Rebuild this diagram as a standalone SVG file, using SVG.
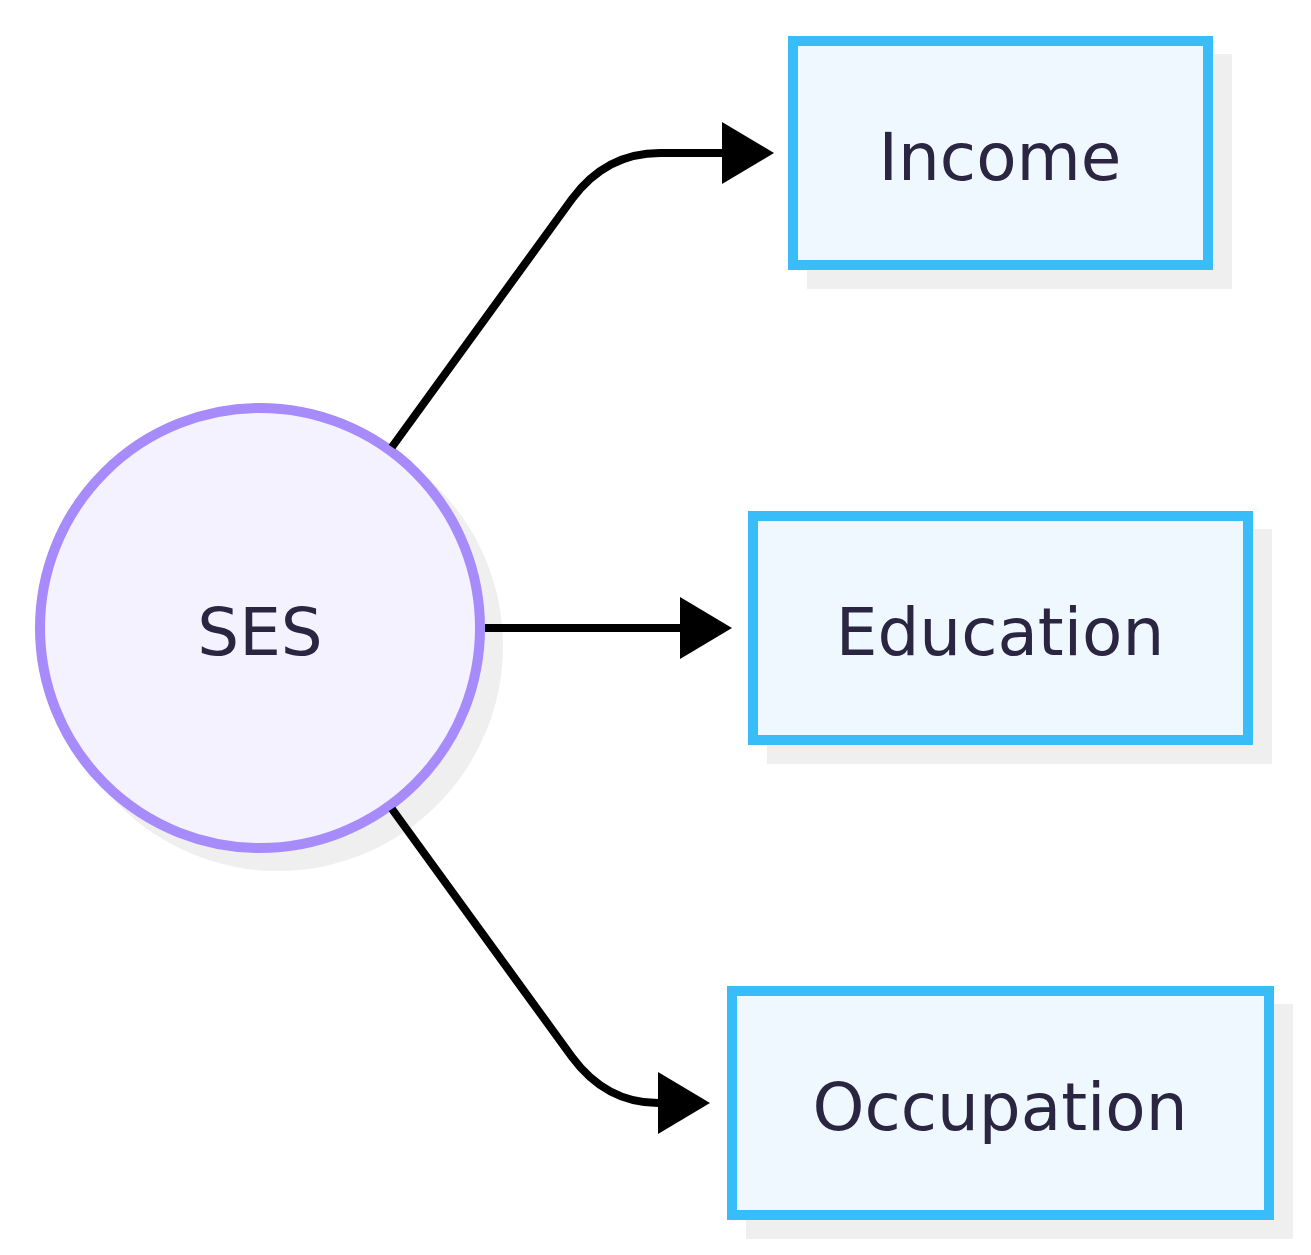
<svg xmlns="http://www.w3.org/2000/svg" width="1311" height="1255" viewBox="0 0 1311 1255">
<style>
.shadow{fill:#efefef;stroke:none}
.box{fill:#f0f8ff;stroke:#38bdf8;stroke-width:10}
.circ{fill:#f4f2fe;stroke:#a78bfa;stroke-width:10}
.lbl{font-family:"DejaVu Sans","Liberation Sans",sans-serif;font-size:66px;fill:#2a2540;text-anchor:middle}
.edge{fill:none;stroke:#000;stroke-width:8}
</style>
<defs>
<marker id="arrow" viewBox="0 0 52 62" markerUnits="userSpaceOnUse" markerWidth="52" markerHeight="62" refX="0" refY="31" orient="auto">
<path d="M0,0 L52,31 L0,62 z" fill="#000"/>
</marker>
</defs>
<rect width="1311" height="1255" fill="#fff"/>
<g id="SES">
<circle class="shadow" cx="278" cy="646" r="225"/>
<circle class="circ" cx="260" cy="628" r="220"/>
<text class="lbl" x="260" y="655">SES</text>
</g>
<g id="Income">
<rect class="shadow" x="807" y="54" width="425" height="235"/>
<rect class="box" x="793" y="41" width="415" height="224"/>
<text class="lbl" x="1000" y="180">Income</text>
</g>
<g id="Education">
<rect class="shadow" x="767" y="529" width="505" height="235"/>
<rect class="box" x="753" y="516" width="495" height="224"/>
<text class="lbl" x="1000" y="655">Education</text>
</g>
<g id="Occupation">
<rect class="shadow" x="746" y="1004" width="547" height="235"/>
<rect class="box" x="732" y="991" width="537" height="224"/>
<text class="lbl" x="1000" y="1130">Occupation</text>
</g>
<g id="edges">
<path class="edge" d="M392,447 L572,199 Q606,153 660,153 L722,153" marker-end="url(#arrow)"/>
<path class="edge" d="M485,628 L680,628" marker-end="url(#arrow)"/>
<path class="edge" d="M392,809 L572,1057 Q606,1103 658,1103" marker-end="url(#arrow)"/>
</g>
</svg>
